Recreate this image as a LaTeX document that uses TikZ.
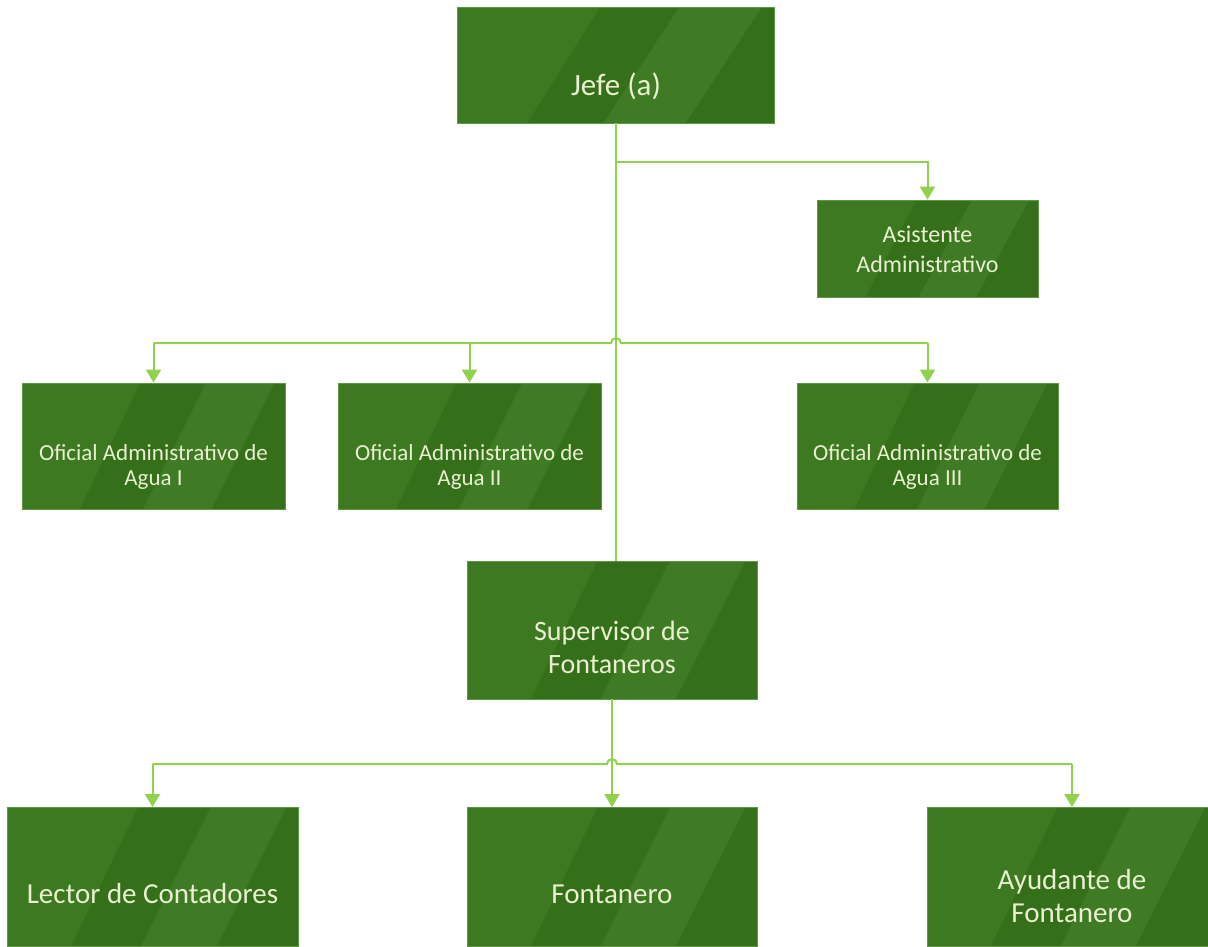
\documentclass[tikz,border=0pt]{standalone}
\usepackage{fontspec}
\setmainfont{Carlito}
\usetikzlibrary{arrows.meta,calc}

\definecolor{boxgreen}{HTML}{38761C}
\definecolor{boxedge}{HTML}{5F9642}
\definecolor{wire}{HTML}{92D050}
\definecolor{caption}{HTML}{E8F0D0}

% soft diagonal sheen bands inside every box
\newcommand\boxsheen{%
  \coordinate (pSW) at (path picture bounding box.south west);
  \coordinate (pSE) at (path picture bounding box.south east);
  \coordinate (pNW) at (path picture bounding box.north west);
  \coordinate (pNE) at (path picture bounding box.north east);
  \fill[white,opacity=.025] (pSW) -- ($(pSW)!.22!(pSE)$) -- ($(pNW)!.45!(pNE)$) -- (pNW) -- cycle;
  \fill[black,opacity=.05] ($(pSW)!.22!(pSE)$) -- ($(pSW)!.46!(pSE)$) -- ($(pNW)!.70!(pNE)$) -- ($(pNW)!.45!(pNE)$) -- cycle;
  \fill[white,opacity=.04] ($(pSW)!.46!(pSE)$) -- ($(pSW)!.72!(pSE)$) -- ($(pNW)!.96!(pNE)$) -- ($(pNW)!.70!(pNE)$) -- cycle;
  \fill[black,opacity=.05] ($(pSW)!.72!(pSE)$) -- (pSE) -- (pNE) -- ($(pNW)!.96!(pNE)$) -- cycle;
}

\tikzset{
  orgbox/.style={rectangle, draw=boxedge, line width=0.8pt, fill=boxgreen,
    inner sep=0pt, path picture={\boxsheen}},
  link/.style={draw=wire, line width=2pt},
  feed/.style={link, -{Triangle[width=15pt,length=13pt]}},
  capt/.style={text=caption, align=center, inner sep=0pt},
  big/.style={capt, font=\fontsize{29}{33}\selectfont},
  mid/.style={capt, font=\fontsize{24}{30}\selectfont},
  small/.style={capt, font=\fontsize{23}{24.5}\selectfont},
}

\begin{document}
\begin{tikzpicture}[x=1pt,y=-1pt]
  \useasboundingbox (0,0) rectangle (1208,947);
  \fill[white] (0,0) rectangle (1208,947);
  \clip (0,0) rectangle (1208,947);

  % boxes
  \node[orgbox, minimum width=317, minimum height=116] (jefe)   at (616,65)    {};
  \node[orgbox, minimum width=221, minimum height=97]  (asist)  at (927.5,248.5) {};
  \node[orgbox, minimum width=263, minimum height=126] (of1)    at (153.5,446) {};
  \node[orgbox, minimum width=263, minimum height=126] (of2)    at (469.5,446) {};
  \node[orgbox, minimum width=261, minimum height=126] (of3)    at (927.5,446) {};
  \node[orgbox, minimum width=290, minimum height=138] (sup)    at (612,630)   {};
  \node[orgbox, minimum width=291, minimum height=139] (lector) at (152.5,877) {};
  \node[orgbox, minimum width=290, minimum height=139] (fonta)  at (612,877)   {};
  \node[orgbox, minimum width=290, minimum height=139] (ayud)   at (1072,877)  {};

  % captions
  \node[capt, font=\fontsize{31}{33}\selectfont, anchor=base] (jefeT) at (616,96) {Jefe (a)};
  \node[mid]   (asistT) at (927.5,249) {Asistente\\Administrativo};
  \node[small] (of1T) at (153.5,467) {Oficial Administrativo de\\Agua I};
  \node[small] (of2T) at (469.5,467) {Oficial Administrativo de\\Agua II};
  \node[small] (of3T) at (927.5,467) {Oficial Administrativo de\\Agua III};
  \node[capt, font=\fontsize{28}{33}\selectfont] (supT) at (612,647) {Supervisor de\\Fontaneros};
  \node[big, anchor=base] (lectorT) at (152.5,903) {Lector de Contadores};
  \node[big, anchor=base] (fontaT)  at (612,903)   {Fontanero};
  \node[big] (ayudT) at (1072,896) {Ayudante de\\Fontanero};

  % junctions on the trunk
  \coordinate (busA) at (616,162);
  \coordinate (busB) at (616,343);
  \coordinate (busC) at (612,764);

  % trunk from the head down to the supervisor
  \draw[link] (jefe.south) -- (jefe.south |- sup.north);
  \draw[feed] (busA) -| (asist.north);

  % office bus, hopping over the trunk
  \draw[link] (of1.north |- busB) -- ($(busB)+(-5,0)$)
    arc[start angle=180, end angle=360, radius=5] -- (of3.north |- busB);
  \draw[feed] (of1.north |- busB) -- (of1.north);
  \draw[feed] (of2.north |- busB) -- (of2.north);
  \draw[feed] (of3.north |- busB) -- (of3.north);

  % field staff bus, hopping over the supervisor line
  \draw[feed] (sup.south) -- (fonta.north);
  \draw[link] (lector.north |- busC) -- ($(busC)+(-5,0)$)
    arc[start angle=180, end angle=360, radius=5] -- (ayud.north |- busC);
  \draw[feed] (lector.north |- busC) -- (lector.north);
  \draw[feed] (ayud.north |- busC) -- (ayud.north);
\end{tikzpicture}
\end{document}
